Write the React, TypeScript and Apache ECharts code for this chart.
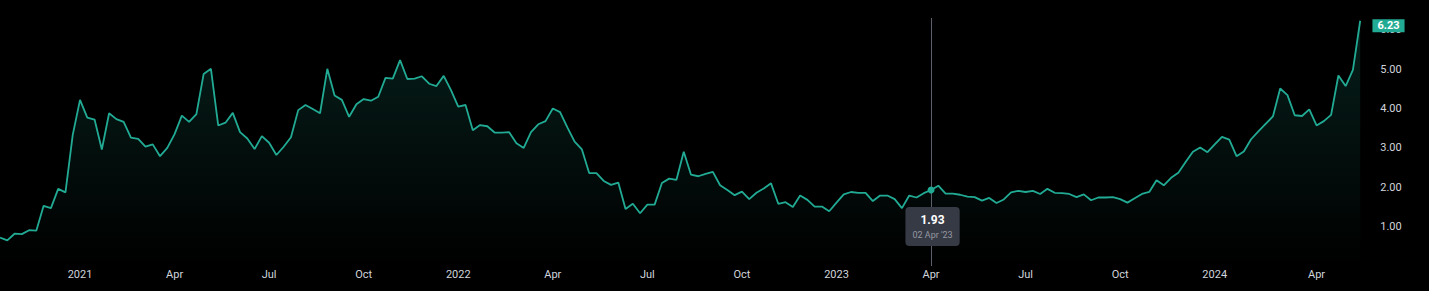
import React, { useEffect, useRef } from "react";
import * as echarts from "echarts";

// Weekly closes, first bar 2020-10-18 (Sunday), one bar per week
const firstBar = "2020-10-18";
const values2020 = [0.72, 0.65, 0.82, 0.81, 0.91, 0.9, 1.53, 1.47, 1.96, 1.87, 3.33];
const values2021 = [
  4.22, 3.77, 3.72, 2.96, 3.88, 3.73, 3.66, 3.26, 3.23, 3.03, 3.09, 2.79, 3.0,
  3.35, 3.82, 3.66, 3.86, 4.88, 5.01, 3.57, 3.64, 3.89, 3.4, 3.24, 2.97, 3.3,
  3.13, 2.82, 3.03, 3.27, 3.96, 4.09, 3.99, 3.88, 5.01, 4.33, 4.22, 3.79, 4.11,
  4.24, 4.2, 4.3, 4.78, 4.76, 5.23, 4.75, 4.76, 4.82, 4.63, 4.57, 4.83, 4.47,
];
const values2022 = [
  4.05, 4.09, 3.45, 3.58, 3.55, 3.39, 3.39, 3.4, 3.12, 3.0, 3.4, 3.6, 3.68,
  4.0, 3.91, 3.52, 3.16, 2.96, 2.36, 2.36, 2.16, 2.06, 2.12, 1.45, 1.58, 1.34,
  1.56, 1.56, 2.11, 2.22, 2.19, 2.9, 2.32, 2.28, 2.34, 2.39, 2.05, 1.93, 1.8,
  1.89, 1.7, 1.86, 1.97, 2.1, 1.58, 1.62, 1.5, 1.79, 1.68, 1.51, 1.51, 1.39,
];
const values2023 = [
  1.61, 1.82, 1.88, 1.86, 1.86, 1.65, 1.79, 1.79, 1.7, 1.47, 1.79, 1.74, 1.85,
  1.93, 2.04, 1.84, 1.84, 1.81, 1.76, 1.75, 1.66, 1.73, 1.6, 1.69, 1.87, 1.91,
  1.88, 1.91, 1.83, 1.96, 1.86, 1.85, 1.83, 1.75, 1.82, 1.67, 1.74, 1.74, 1.75,
  1.7, 1.61, 1.72, 1.83, 1.88, 2.18, 2.05, 2.24, 2.37, 2.64, 2.9, 3.01, 2.89, 3.09,
];
const values2024 = [
  3.28, 3.21, 2.79, 2.91, 3.22, 3.42, 3.61, 3.8, 4.51, 4.34, 3.83, 3.81, 3.98,
  3.57, 3.68, 3.84, 4.84, 4.57, 4.98, 6.23,
];

// Time-scale labels (placed on the bar where TradingView shows them)
const tickDates = [
  "2021-01-03", "2021-04-04", "2021-07-04", "2021-10-03",
  "2022-01-02", "2022-04-03", "2022-07-03", "2022-10-02",
  "2023-01-01", "2023-04-02", "2023-07-02", "2023-10-01",
  "2023-12-31", "2024-04-07",
];
const tickLabels = [
  "2021", "Apr", "Jul", "Oct",
  "2022", "Apr", "Jul", "Oct",
  "2023", "Apr", "Jul", "Oct",
  "2024", "Apr",
];

// Crosshair / tooltip
const hoverDate = "2023-04-02";
const hoverValue = 1.93;
const hoverLabel = "02 Apr '23";
const lastLabel = "6.23";

const values = [...values2020, ...values2021, ...values2022, ...values2023, ...values2024];

function weeklyDates(start: string, n: number): string[] {
  const [y, m, d] = start.split("-").map(Number);
  const t0 = Date.UTC(y, m - 1, d);
  const out: string[] = [];
  for (let i = 0; i < n; i++) {
    const dt = new Date(t0 + i * 7 * 86400000);
    const mm = String(dt.getUTCMonth() + 1).padStart(2, "0");
    const dd = String(dt.getUTCDate()).padStart(2, "0");
    out.push(`${dt.getUTCFullYear()}-${mm}-${dd}`);
  }
  return out;
}

const dates = weeklyDates(firstBar, values.length);

const GREEN = "#22ab94";
const FONT = "Roboto, 'Noto Sans', sans-serif";

export default function App() {
  const ref = useRef<HTMLDivElement>(null);
  useEffect(() => {
    document.body.style.margin = "0";
    document.body.style.background = "#000";
    const chart = echarts.init(ref.current!, null, { renderer: "svg" });
    const hi = dates.indexOf(hoverDate);
    const li = values.length - 1;
    chart.setOption({
      animation: false,
      backgroundColor: "#000000",
      grid: { left: -3.29, right: 68.8, top: 18, bottom: 25 },
      xAxis: {
        type: "category",
        data: dates,
        boundaryGap: false,
        axisLine: { show: false },
        axisTick: { show: false },
        splitLine: { show: false },
        axisLabel: {
          interval: (_i: number, v: string) => tickDates.includes(v),
          formatter: (v: string) => {
            const k = tickDates.indexOf(v);
            return k >= 0 ? tickLabels[k] : "";
          },
          color: "#d1d4dc",
          fontSize: 11,
          fontFamily: FONT,
          margin: 3,
        },
      },
      yAxis: {
        type: "value",
        position: "right",
        min: 0,
        max: 6.3,
        interval: 1,
        splitLine: { show: false },
        axisLine: { show: false },
        axisTick: { show: false },
        axisLabel: {
          showMinLabel: false,
          showMaxLabel: false,
          formatter: (v: number) => v.toFixed(2),
          align: "left",
          margin: 20,
          color: "#d1d4dc",
          fontSize: 11,
          fontFamily: FONT,
        },
      },
      series: [
        {
          type: "line",
          data: values,
          symbol: "none",
          showSymbol: false,
          lineStyle: { color: GREEN, width: 1.8 },
          areaStyle: {
            color: new echarts.graphic.LinearGradient(0, 0, 0, 1, [
              { offset: 0, color: "rgba(34,171,148,0.26)" },
              { offset: 1, color: "rgba(34,171,148,0)" },
            ]),
          },
          markLine: {
            silent: true,
            symbol: ["none", "none"],
            label: { show: false },
            lineStyle: { color: "#5d606b", width: 1, type: "solid" },
            data: [{ xAxis: hi }],
          },
          markPoint: {
            silent: true,
            data: [
              {
                coord: [li, values[li]],
                symbol: "rect",
                symbolSize: 0,
                label: {
                  show: true,
                  position: "inside",
                  offset: [28.3, 4.9],
                  formatter: lastLabel,
                  backgroundColor: GREEN,
                  color: "#ffffff",
                  fontWeight: "bold",
                  fontSize: 11,
                  fontFamily: FONT,
                  lineHeight: 13,
                  padding: [0, 5, 0, 5],
                },
              },
              {
                coord: [hi, hoverValue],
                symbol: "rect",
                symbolSize: 0,
                label: {
                  show: true,
                  position: "inside",
                  offset: [1.5, 36.5],
                  formatter: `{v|${hoverValue.toFixed(2)}}\n{d|${hoverLabel}}`,
                  backgroundColor: "#363a45",
                  borderRadius: 4,
                  padding: [5, 7, 4, 7],
                  align: "center",
                  rich: {
                    v: { color: "#ffffff", fontWeight: "bold", fontSize: 12, fontFamily: FONT, lineHeight: 16, align: "center" },
                    d: { color: "#9598a1", fontSize: 9, fontFamily: FONT, lineHeight: 14, align: "center" },
                  },
                },
              },
              {
                coord: [hi, hoverValue],
                symbol: "circle",
                symbolSize: 7,
                itemStyle: { color: GREEN },
                label: { show: false },
              },
            ],
          },
        },
      ],
    });
    return () => chart.dispose();
  }, []);
  return (
    <div
      ref={ref}
      style={{ position: "fixed", left: 0, top: 0, width: 1429, height: 291, background: "#000" }}
    />
  );
}
